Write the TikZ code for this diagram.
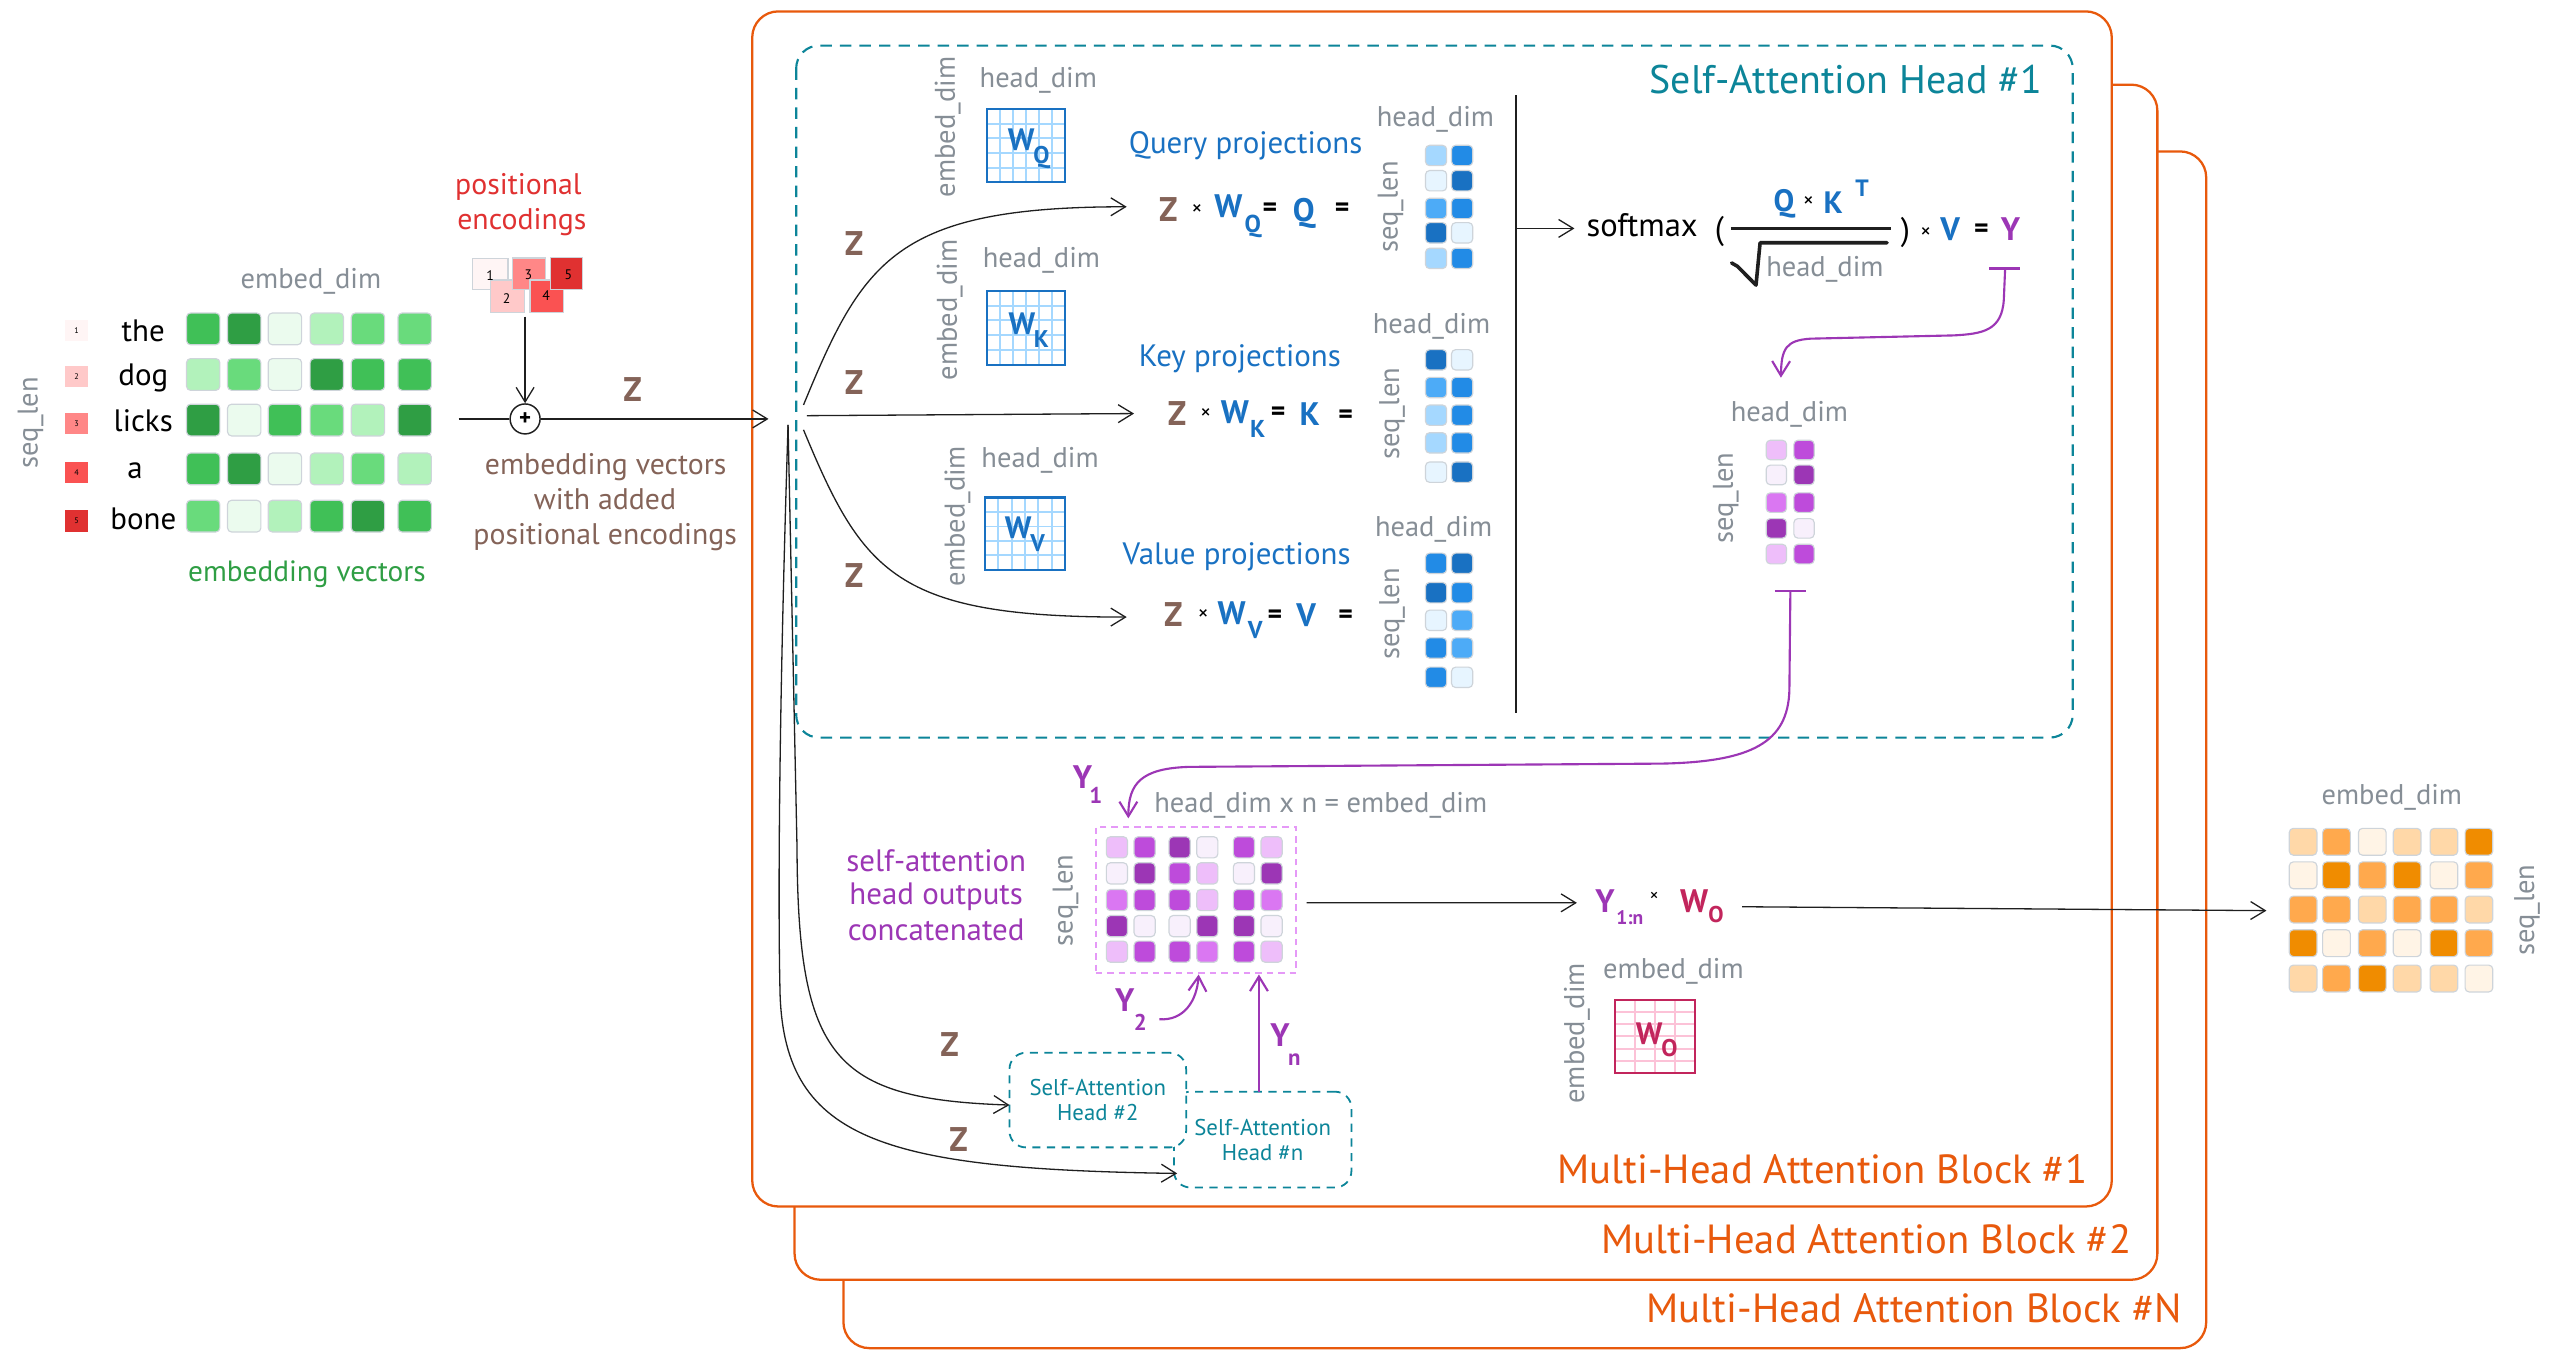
\documentclass[tikz,border=0pt]{standalone}
\usepackage{fontspec}
\setmainfont{PT Sans}
\usepackage{graphicx}
\usetikzlibrary{arrows.meta}
\definecolor{cgray}{HTML}{868E96}
\definecolor{cbrown}{HTML}{846358}
\definecolor{cblue}{HTML}{1971C2}
\definecolor{cteal}{HTML}{0C8599}
\definecolor{corange}{HTML}{E8590C}
\definecolor{cpurple}{HTML}{9C36B5}
\definecolor{ccrimson}{HTML}{C2255C}
\definecolor{cgreen}{HTML}{2F9E44}
\definecolor{cred}{HTML}{E03131}
\definecolor{cbord}{HTML}{CED4DA}
\definecolor{cpinkgrid}{HTML}{FCC2D7}
\definecolor{cdashp}{HTML}{E599F7}
\definecolor{G1}{HTML}{EBFBEE}\definecolor{G2}{HTML}{B2F2BB}\definecolor{G3}{HTML}{69DB7C}\definecolor{G4}{HTML}{40C057}\definecolor{G5}{HTML}{2F9E44}
\definecolor{B1}{HTML}{E7F5FF}\definecolor{B2}{HTML}{A5D8FF}\definecolor{B3}{HTML}{4DABF7}\definecolor{B4}{HTML}{228BE6}\definecolor{B5}{HTML}{1971C2}
\definecolor{P1}{HTML}{F8F0FC}\definecolor{P2}{HTML}{EEBEFA}\definecolor{P3}{HTML}{DA77F2}\definecolor{P4}{HTML}{BE4BDB}\definecolor{P5}{HTML}{9C36B5}
\definecolor{O1}{HTML}{FFF4E6}\definecolor{O2}{HTML}{FFD8A8}\definecolor{O3}{HTML}{FFA94D}\definecolor{O4}{HTML}{F08C00}
\definecolor{R1}{HTML}{FFF5F5}\definecolor{R2}{HTML}{FFC9C9}\definecolor{R3}{HTML}{FF8787}\definecolor{R4}{HTML}{FA5252}\definecolor{R5}{HTML}{E03131}
\newcommand\fs[1]{\fontsize{#1}{#1}\selectfont}
\newcommand\mysub[1]{\kern-0.04em\raisebox{-0.42em}{\scalebox{0.78}{#1}}}
\newcommand\mrow[4]{\foreach \xx/\cc in {#4}{\draw[cellbd, fill=\cc] ({\xx-#2/2},{#1-#3/2}) rectangle ++(#2,#3);}}
\newcommand\wgrid[7]{%
 \foreach \i in {1,...,#6}{\draw[#5, line width=1.2pt] ({#1+\i*#3/(#6+1)},#2) -- ({#1+\i*#3/(#6+1)},{#2+#4});}%
 \foreach \j in {1,...,#7}{\draw[#5, line width=1.2pt] (#1,{#2+\j*#4/(#7+1)}) -- ({#1+#3},{#2+\j*#4/(#7+1)});}}
\begin{document}
\begin{tikzpicture}[x=1pt,y=-1pt,
  t/.style={inner sep=0pt, outer sep=0pt, anchor=base},
  gt/.style={t, text=cgray, font=\fs{17.5}},
  rgt/.style={gt, rotate=90, anchor=center},
  cellbd/.style={draw=cbord, line width=0.7pt, rounded corners=2.5pt},
  ln/.style={line width=0.8pt, draw=black!88},
  arr/.style={ln, -{Straight Barb[length=9pt,width=11pt]}},
  pln/.style={line width=1.3pt, draw=cpurple},
  parr/.style={pln, -{Straight Barb[length=9pt,width=11pt]}},
  frame/.style={draw=corange, line width=1.4pt, rounded corners=16pt, fill=white},
  tealdash/.style={draw=cteal, line width=1.3pt, dash pattern=on 7pt off 5pt, rounded corners=14pt},
  headbox/.style={draw=cteal, line width=1.1pt, dash pattern=on 5pt off 4pt, rounded corners=10pt, fill=white, inner sep=0pt, align=center, text=cteal, font=\fontsize{14}{15.4}\selectfont},
  zt/.style={t, text=cbrown, font=\bfseries\fs{21}},
  bt/.style={t, text=cblue, font=\fs{19}},
  bbt/.style={t, text=cblue, font=\bfseries\fs{20}},
  pbt/.style={t, text=cpurple, font=\bfseries\fs{20}},
  pst/.style={t, text=cpurple, font=\bfseries\fs{14}},
  xt/.style={inner sep=0pt, anchor=center, font=\fs{13}},
  eqt/.style={inner sep=0pt, anchor=center, font=\bfseries\fs{17}},
  blk/.style={t, text=corange, font=\fs{25}, anchor=base east},
  wbox/.style={line width=1.4pt, inner sep=0pt}
]
\useasboundingbox (0,0) rectangle (1568,834);
% ---------- frames
\draw[frame] (518,93) rectangle (1355,828);
\draw[frame] (488,52) rectangle (1325,786);
\draw[frame] (462,7) rectangle (1297,741);
\draw[tealdash] (489,28) rectangle (1273,453);
\node[blk] (b1l) at (1282,726.7) {Multi-Head Attention Block \#1};
\node[blk] (b2l) at (1309,770) {Multi-Head Attention Block \#2};
\node[blk] (bnl) at (1340,812.3) {Multi-Head Attention Block \#N};
\node[t, anchor=base east, text=cteal, font=\fs{24.5}] (sah1) at (1254,57.4) {Self-Attention Head \#1};
% ---------- left: embeddings
\node[rgt] (sl0) at (18.8,259.6) {seq\_len};
\node[gt] (ed0) at (191,177) {embed\_dim};
\foreach \c/\yy/\n in {R1/203/1,R2/231/2,R3/260/3,R4/290/4,R5/320/5}{
  \fill[\c] (40,{\yy-6.5}) rectangle ++(14,13);
  \node[inner sep=0pt, font=\fs{5}] (sq\n) at (47,\yy) {\n};}
\node[t, font=\fs{19}] (wthe) at (88,209.8) {the};
\node[t, font=\fs{19}] (wdog) at (88,236.5) {dog};
\node[t, font=\fs{19}] (wlicks) at (88,265) {licks};
\node[t, font=\fs{19}] (wa) at (83,293.8) {a};
\node[t, font=\fs{19}] (wbone) at (88,325.5) {bone};
\mrow{202}{20.5}{19.5}{124.8/G4,150/G5,175/G1,200.7/G2,226/G3,254.7/G3}
\mrow{230}{20.5}{19.5}{124.8/G2,150/G3,175/G1,200.7/G5,226/G4,254.7/G4}
\mrow{258}{20.5}{19.5}{124.8/G5,150/G1,175/G4,200.7/G3,226/G2,254.7/G5}
\mrow{288}{20.5}{19.5}{124.8/G4,150/G5,175/G1,200.7/G2,226/G3,254.7/G2}
\mrow{317}{20.5}{19.5}{124.8/G3,150/G1,175/G2,200.7/G4,226/G5,254.7/G4}
\node[t, text=cgreen, font=\fs{18}] (embv) at (188.5,357) {embedding vectors};
% ---------- positional encodings
\node[t, text=cred, font=\fs{18.3}] (pe1) at (318.4,119.7) {positional};
\node[t, text=cred, font=\fs{18.3}] (pe2) at (320.5,141.2) {encodings};
\draw[draw=cbord, line width=0.7pt, fill=R1] (290,159) rectangle (312,178);
\draw[draw=cbord, line width=0.7pt, fill=R2] (301,172) rectangle (322,192);
\draw[draw=cbord, line width=0.7pt, fill=R3] (314.5,158.5) rectangle (335,178);
\draw[draw=cbord, line width=0.7pt, fill=R4] (325.5,172) rectangle (346,192);
\draw[draw=cbord, line width=0.7pt, fill=R5] (338,158) rectangle (358,178);
\node[inner sep=0pt, font=\fs{8.5}] (pd1) at (301,169.5) {1};
\node[inner sep=0pt, font=\fs{8.5}] (pd2) at (311.2,183.2) {2};
\node[inner sep=0pt, font=\fs{8.5}] (pd3) at (324.6,168.9) {3};
\node[inner sep=0pt, font=\fs{8.5}] (pd4) at (335.4,181.6) {4};
\node[inner sep=0pt, font=\fs{8.5}] (pd5) at (349.1,168.9) {5};
\coordinate (pebot) at (322.5,194.5);
\node[circle, draw=black!88, line width=0.9pt, minimum size=18.4pt, inner sep=0pt, font=\bfseries\fs{14}] (plus) at (322.5,257.3) {+};
\draw[arr] (pebot) -- (plus.north);
\coordinate (zstart) at (281.6,257.3);
\coordinate (zend) at (472,257.3);
\draw[ln] (zstart) -- (plus.west);
\draw[arr] (plus.east) -- (zend);
\node[zt] (zlab0) at (388.5,246.7) {Z};
\node[t, text=cbrown, font=\fs{18.3}] (ev1) at (372,291.7) {embedding vectors};
\node[t, text=cbrown, font=\fs{18.3}] (ev2) at (371.6,312.8) {with added};
\node[t, text=cbrown, font=\fs{18.3}] (ev3) at (371.7,334.7) {positional encodings};
% ---------- split into Q K V
\coordinate (sq0) at (493.5,248.7); \coordinate (qtip) at (692,127);
\coordinate (sk0) at (495.5,255.3); \coordinate (ktip) at (696.5,254);
\coordinate (sv0) at (493.5,264);   \coordinate (vtip) at (692,379);
\draw[arr] (sq0) .. controls (530,160) and (550,127) .. (qtip);
\draw[arr] (sk0) -- (ktip);
\draw[arr] (sv0) .. controls (530,352) and (550,379) .. (vtip);
\node[zt] (zq0) at (524.6,157.2) {Z};
\node[zt] (zk0) at (524.6,242.4) {Z};
\node[zt] (zv0) at (524.6,360.9) {Z};
% ---------- W matrices
\wgrid{606}{67}{48}{45}{B2}{5}{4}
\node[wbox, draw=cblue, minimum width=48pt, minimum height=45pt] (wq) at (630,89.5) {};
\node[t, text=cblue, font=\bfseries\fs{19}] (wql) at (631.8,92.6) {W\mysub{Q}};
\wgrid{606}{178.7}{48}{45.3}{B2}{5}{4}
\node[wbox, draw=cblue, minimum width=48pt, minimum height=45.3pt] (wk) at (630,201.35) {};
\node[t, text=cblue, font=\bfseries\fs{19}] (wkl) at (631.8,205.7) {W\mysub{K}};
\wgrid{605}{305.6}{49}{44.4}{B2}{5}{4}
\node[wbox, draw=cblue, minimum width=49pt, minimum height=44.4pt] (wv) at (629.5,327.8) {};
\node[t, text=cblue, font=\bfseries\fs{19}] (wvl) at (629.5,330.6) {W\mysub{V}};
\node[gt] (hdq) at (637.7,53.5) {head\_dim};
\node[gt] (hdk) at (639.6,164.5) {head\_dim};
\node[gt] (hdv) at (638.8,287.4) {head\_dim};
\node[rgt] (edq) at (582,78) {embed\_dim};
\node[rgt] (edk) at (583.3,190.3) {embed\_dim};
\node[rgt] (edv) at (588,317) {embed\_dim};
% ---------- projections text
\node[bt] (qp) at (765,94) {Query projections};
\node[bt] (kp) at (761.5,224.8) {Key projections};
\node[bt] (vp) at (759.5,346.8) {Value projections};
% eq 1
\node[zt] (ez1) at (717.5,135.8) {Z};
\node[xt] (ex1) at (735.2,128.7) {×};
\node[t, text=cblue, font=\bfseries\fs{20}] (ew1) at (754.5,133.7) {W};
\node[t, text=cblue, font=\bfseries\fs{15}] (es1) at (769.5,142.5) {Q};
\node[eqt] (eq1a) at (780,128.7) {=};
\node[bbt] (eqq) at (800.8,135.8) {Q};
\node[eqt] (eq1b) at (824.3,128.7) {=};
% eq 2
\node[zt] (ez2) at (722.9,261.5) {Z};
\node[xt] (ex2) at (740.5,254) {×};
\node[t, text=cblue, font=\bfseries\fs{20}] (ew2) at (758.5,260) {W};
\node[t, text=cblue, font=\bfseries\fs{15}] (es2) at (772.5,268.9) {K};
\node[eqt] (eq2a) at (785,254) {=};
\node[bbt] (eqk) at (804.4,261.5) {K};
\node[eqt] (eq2b) at (826.4,255.7) {=};
% eq 3
\node[zt] (ez3) at (720.7,385) {Z};
\node[xt] (ex3) at (739,377.6) {×};
\node[t, text=cblue, font=\bfseries\fs{20}] (ew3) at (756.5,383.5) {W};
\node[t, text=cblue, font=\bfseries\fs{15}] (es3) at (771,392.3) {V};
\node[eqt] (eq3a) at (783,379) {=};
\node[bbt] (eqv) at (802.2,385) {V};
\node[eqt] (eq3b) at (826.4,379) {=};
% ---------- Q K V matrices
\node[gt] (hdqm) at (881.6,77.9) {head\_dim};
\node[gt] (hdkm) at (879.2,205) {head\_dim};
\node[gt] (hdvm) at (880.5,329.7) {head\_dim};
\node[rgt] (slq) at (854,127) {seq\_len};
\node[rgt] (slk) at (855,254) {seq\_len};
\node[rgt] (slv) at (855,377) {seq\_len};
\mrow{95.5}{13}{12.5}{882/B2,898/B4}
\mrow{111}{13}{12.5}{882/B1,898/B5}
\mrow{128}{13}{12.5}{882/B3,898/B4}
\mrow{143}{13}{12.5}{882/B5,898/B1}
\mrow{158.7}{13}{12.5}{882/B2,898/B4}
\mrow{221}{13}{12.5}{882/B5,898/B1}
\mrow{238}{13}{12.5}{882/B3,898/B4}
\mrow{255}{13}{12.5}{882/B2,898/B4}
\mrow{272}{13}{12.5}{882/B2,898/B4}
\mrow{290}{13}{12.5}{882/B1,898/B5}
\mrow{346}{13}{12.5}{882/B4,898/B5}
\mrow{364}{13}{12.5}{882/B5,898/B4}
\mrow{381}{13}{12.5}{882/B1,898/B3}
\mrow{398}{13}{12.5}{882/B4,898/B3}
\mrow{416}{13}{12.5}{882/B4,898/B1}
% ---------- attention formula
\coordinate (vtop) at (931,58.4); \coordinate (vbot) at (931,438);
\draw[line width=1.1pt, draw=black!88] (vtop) -- (vbot);
\coordinate (vmid) at (931,140.3); \coordinate (smin) at (967,140.3);
\draw[arr] (vmid) -- (smin);
\node[t, font=\fs{20}] (smx) at (1008.6,145.4) {softmax};
\node[t, font=\fs{20}] (lpar) at (1056,147) {(};
\coordinate (fb1) at (1063,140.3); \coordinate (fb2) at (1161.6,140.3);
\draw[line width=2.2pt, draw=black!88] (fb1) -- (fb2);
\node[t, text=cblue, font=\bfseries\fs{19}] (nq) at (1095.6,130) {Q};
\node[xt] (nx) at (1110.7,124) {×};
\node[t, text=cblue, font=\bfseries\fs{19}] (nk) at (1125.9,131) {K};
\node[t, text=cblue, font=\bfseries\fs{14.5}] (nt) at (1143.6,120.8) {T};
\coordinate (r1) at (1063.5,161.5); \coordinate (r2) at (1067,163.5);
\coordinate (r3) at (1078.5,175.1); \coordinate (r4) at (1081,149.1); \coordinate (r5) at (1159,149.1);
\draw[line width=2.2pt, draw=black!88, line join=round, line cap=round] (r1) -- (r2) -- (r3) -- (r4) -- (r5);
\node[gt] (hds) at (1120.8,170) {head\_dim};
\node[t, font=\fs{20}] (rpar) at (1170.3,148) {)};
\node[xt] (fx) at (1182.7,143) {×};
\node[bbt] (fv) at (1197.8,147.5) {V};
\node[eqt] (feq) at (1217,141.5) {=};
\node[pbt] (fy) at (1234.8,147.5) {Y};
\coordinate (tb1) at (1221.6,164.9); \coordinate (tb2) at (1240.9,164.9);
\draw[pln] (tb1) -- (tb2);
\coordinate (ys) at (1231.5,165);
\coordinate (ytip) at (1093.8,232);
\draw[parr] (ys) -- (1230.7,184) .. controls (1229.5,203) and (1218,205) .. (1200,206) -- (1112,208) .. controls (1097,209) and (1094,214) .. (ytip);
% ---------- head output
\node[gt] (hdo) at (1099,259) {head\_dim};
\node[rgt] (slo) at (1060,306) {seq\_len};
\mrow{276.4}{12.5}{12}{1091/P2,1108/P4}
\mrow{291.7}{12.5}{12}{1091/P1,1108/P5}
\mrow{308.7}{12.5}{12}{1091/P3,1108/P4}
\mrow{324.5}{12.5}{12}{1091/P5,1108/P1}
\mrow{340.3}{12.5}{12}{1091/P2,1108/P4}
\coordinate (tc1) at (1090,362.8); \coordinate (tc2) at (1109,362.8);
\draw[pln] (tc1) -- (tc2);
\coordinate (yos) at (1099.6,363);
\coordinate (y1tip) at (693,502.6);
\draw[parr] (yos) -- (1099,424) .. controls (1098,456) and (1076,468) .. (1020,469) -- (730,471) .. controls (701,472) and (693,481) .. (y1tip);
% ---------- concatenation
\node[pbt] (y1) at (664.8,484.2) {Y};
\node[pst] (y1s) at (673,493.4) {1};
\node[gt, anchor=base west] (hdn) at (709,499) {head\_dim x n = embed\_dim};
\node[draw=cdashp, dash pattern=on 4pt off 3pt, line width=0.9pt, minimum width=123pt, minimum height=89.5pt, inner sep=0pt] (cat) at (734.5,552.75) {};
\mrow{520.4}{13}{13}{686/P2,703/P4,724.5/P5,741.5/P1,764/P4,781/P2}
\mrow{536.4}{13}{13}{686/P1,703/P5,724.5/P4,741.5/P2,764/P1,781/P5}
\mrow{552.8}{13}{13}{686/P3,703/P4,724.5/P4,741.5/P2,764/P4,781/P3}
\mrow{568.8}{13}{13}{686/P5,703/P1,724.5/P1,741.5/P5,764/P5,781/P1}
\mrow{584.5}{13}{13}{686/P2,703/P4,724.5/P4,741.5/P3,764/P4,781/P2}
\node[rgt] (slc) at (654.5,553) {seq\_len};
\node[t, text=cpurple, font=\fs{19}] (sac1) at (575,535.4) {self-attention};
\node[t, text=cpurple, font=\fs{19}] (sac2) at (575,555.8) {head outputs};
\node[t, text=cpurple, font=\fs{19}] (sac3) at (575,577.4) {concatenated};
\node[pbt] (y2) at (690.8,621.4) {Y};
\node[pst] (y2s) at (700.4,632.6) {2};
\node[pbt] (yn) at (786.1,642.9) {Y};
\node[pst] (yns) at (795,654.1) {n};
% ---------- other heads
\node[headbox, minimum width=109pt, minimum height=58.8pt] (hn) at (775.5,699.9) {Self-Attention\\Head \#n};
\node[headbox, minimum width=108.5pt, minimum height=58.1pt] (h2) at (674.25,675.65) {Self-Attention\\Head \#2};
\coordinate (y2a) at (712,626); \coordinate (y2tip) at (736.2,598.5);
\draw[parr] (y2a) .. controls (727,627) and (735,615) .. (y2tip);
\coordinate (ynb) at (773.2,670.5); \coordinate (yntip) at (773.2,598.5);
\draw[parr] (ynb) -- (yntip);
\coordinate (spl) at (484,261);
\coordinate (h2tip) at (620,678.7);
\coordinate (hntip) at (723,720.7);
\draw[arr] (spl) -- (489.5,520) .. controls (490,650) and (512,675) .. (h2tip);
\draw[arr] (spl) .. controls (478,450) and (478,560) .. (479,606) .. controls (480,700) and (540,718) .. (hntip);
\node[zt] (zh2) at (583.2,649) {Z};
\node[zt] (zhn) at (588.7,707.4) {Z};
% ---------- output projection
\coordinate (catout) at (802.5,554.4); \coordinate (ytin) at (968.5,554.5);
\draw[arr] (catout) -- (ytin);
\node[pbt] (y1n) at (985.8,560.5) {Y};
\node[t, text=cpurple, font=\bfseries\fs{12}] (y1ns) at (1001,567.7) {1:n};
\node[xt, font=\fs{11}] (yx) at (1016,551) {×};
\node[t, text=ccrimson, font=\bfseries\fs{20}] (wo2) at (1040.5,560.5) {W};
\node[t, text=ccrimson, font=\bfseries\fs{14}] (wo2s) at (1054,566.5) {O};
\coordinate (woout) at (1070,556.9); \coordinate (outtip) at (1392,559.3);
\draw[arr] (woout) -- (outtip);
\node[gt] (edwo) at (1027.8,601) {embed\_dim};
\node[rgt] (edwor) at (968.5,634.6) {embed\_dim};
\wgrid{992}{614}{49}{45}{cpinkgrid}{3}{5}
\node[wbox, draw=ccrimson, minimum width=49pt, minimum height=45pt] (wo) at (1016.5,636.5) {};
\node[t, text=ccrimson, font=\bfseries\fs{19}] (wol) at (1017.5,641.2) {W\mysub{O}};
% ---------- output matrix
\node[gt] (edout) at (1469,494) {embed\_dim};
\node[rgt] (slout) at (1552,559) {seq\_len};
\mrow{517}{17}{16.5}{1414.5/O2,1435/O3,1457/O1,1478.4/O2,1501/O2,1522.5/O4}
\mrow{537.6}{17}{16.5}{1414.5/O1,1435/O4,1457/O3,1478.4/O4,1501/O1,1522.5/O3}
\mrow{558.6}{17}{16.5}{1414.5/O3,1435/O3,1457/O2,1478.4/O3,1501/O3,1522.5/O2}
\mrow{579.3}{17}{16.5}{1414.5/O4,1435/O1,1457/O3,1478.4/O1,1501/O4,1522.5/O3}
\mrow{601}{17}{16.5}{1414.5/O2,1435/O3,1457/O4,1478.4/O2,1501/O2,1522.5/O1}
\end{tikzpicture}
\end{document}
